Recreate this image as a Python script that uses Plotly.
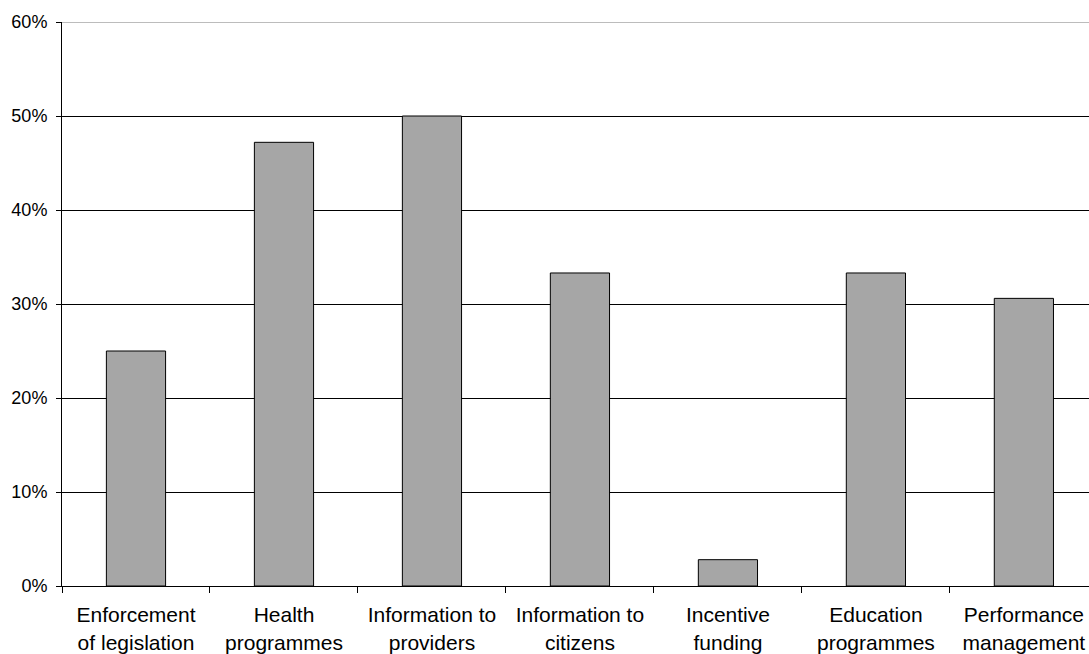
import plotly.graph_objects as go

categories = ["Enforcement<br>of legislation", "Health<br>programmes", "Information to<br>providers",
              "Information to<br>citizens", "Incentive<br>funding", "Education<br>programmes",
              "Performance<br>management"]
values = [25.0, 47.2, 50.0, 33.3, 2.8, 33.3, 30.6]
y_ticks = [0, 10, 20, 30, 40, 50, 60]
y_tick_labels = ["0%", "10%", "20%", "30%", "40%", "50%", "60%"]

fig = go.Figure(go.Bar(
    x=categories, y=values, width=0.4,
    marker=dict(color="#A6A6A6", line=dict(color="#000000", width=1)),
    hoverinfo="skip",
))

fig.update_layout(
    width=1089, height=654,
    margin=dict(l=62, r=0, t=22, b=68),
    paper_bgcolor="white", plot_bgcolor="white",
    font=dict(family="Liberation Sans, Arial, sans-serif", color="#000000"),
    showlegend=False,
    bargap=0.6,
)
fig.add_shape(type="line", xref="paper", yref="y", x0=0, x1=1,
              y0=y_ticks[-1], y1=y_ticks[-1], line=dict(color="#7A7A7A", width=1))
fig.update_xaxes(
    type="category", range=[-0.5, 6.44], automargin=False,
    showline=True, linecolor="#000000", linewidth=1,
    ticks="outside", ticklen=6, tickcolor="#000000", tickson="boundaries",
    tickfont=dict(size=21), showgrid=False, zeroline=False,
    ticklabelstandoff=10,
)
fig.update_yaxes(
    range=[0, 60], tickvals=y_ticks, ticktext=y_tick_labels, automargin=False,
    showline=True, linecolor="#000000", linewidth=1,
    ticks="outside", ticklen=5, tickcolor="#000000",
    showgrid=True, gridcolor="#000000", gridwidth=1,
    tickfont=dict(size=18), zeroline=False,
    ticklabelstandoff=5,
)

fig.write_html("out.html")
